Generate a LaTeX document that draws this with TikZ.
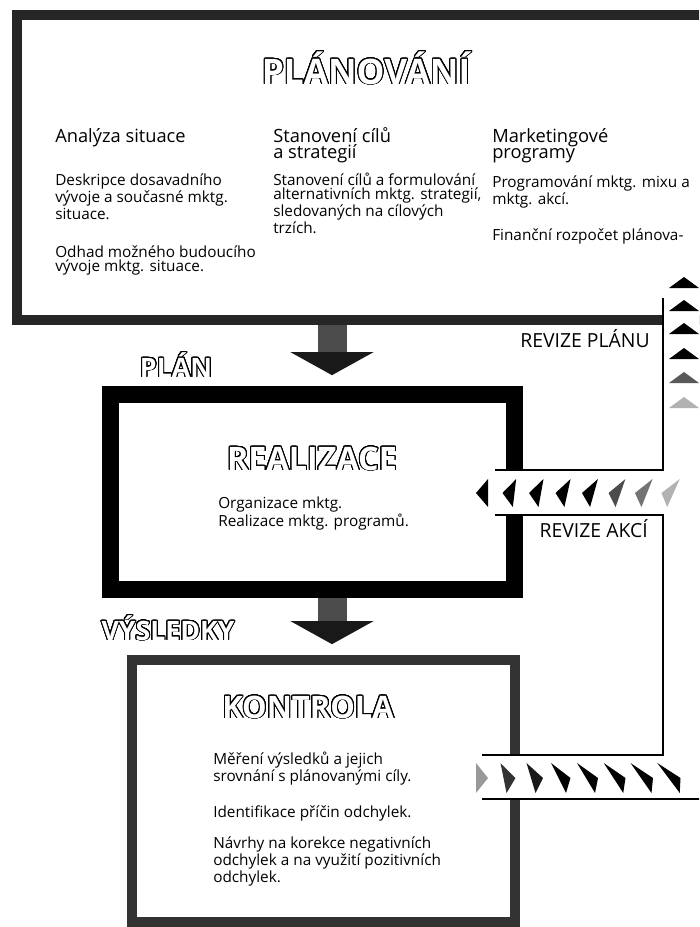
\documentclass[tikz,border=0pt]{standalone}
\usepackage{fontspec}
\setmainfont{Open Sans}
\usepackage{contour}
\contourlength{0.7pt}
\contournumber{32}
\usetikzlibrary{arrows.meta, positioning}
\tikzset{
    frame/.style={draw, rectangle, inner sep=0pt},
    bigarrow/.style={draw=black!70, line width=0.725cm, -{Triangle[width=2.075cm, length=0.575cm, line width=0pt, color=black!90]}, shorten >=0.27cm},
    wall/.style={line width=0.04cm},
    head/.style={font=\fontsize{13}{11.5pt}\selectfont, anchor=base west, align=left, inner sep=0pt},
    txt/.style={font=\fontsize{10.9}{10.3pt}\selectfont, anchor=base west, align=left, inner sep=0pt},
    title/.style={font=\fontsize{23}{23}\selectfont\bfseries, inner sep=0pt, anchor=base},
    stage/.style={font=\fontsize{19}{19}\selectfont\bfseries, inner sep=0pt, anchor=base},
    tag/.style={font=\fontsize{13.8}{14}\selectfont, inner sep=0pt, anchor=base east}
}
\newcommand{\hollow}[1]{\contour{black}{\textcolor{white}{#1}}}

\begin{document}
\begin{tikzpicture}[x=0.025cm, y=-0.025cm]
    \useasboundingbox (0,0) rectangle (699,927);
    \clip (0,0) rectangle (699,927);

    % the three boxes
    \node (plan) [frame, draw=black!85, line width=0.25cm, minimum width=18.075cm, minimum height=7.625cm] at (378.5,167.5) {};
    \node (realizace) [frame, draw=black, line width=0.425cm, minimum width=10.1cm, minimum height=4.875cm] at (312.5,492) {};
    \node (kontrola) [frame, draw=black!80, line width=0.25cm, minimum width=9.575cm, minimum height=6.55cm] at (323.5,791) {};

    % plan -> realizace -> kontrola
    \coordinate (axis) at (332,0);
    \draw [bigarrow] (plan.south -| axis) -- (realizace.north -| axis);
    \draw [bigarrow] (realizace.south -| axis) -- (kontrola.north -| axis);

    % feedback channel
    \coordinate (pipeTop) at (663,298);
    \coordinate (akceTop) at (495,470);
    \coordinate (akceBot) at (495,515);
    \coordinate (kontTop) at (482,755);
    \coordinate (kontBot) at (482,799);
    \fill [white] (kontTop) -- (kontTop -| pipeTop) -- (akceBot -| pipeTop) -- (akceBot) -- (akceTop)
        -- (akceTop -| pipeTop) -- (pipeTop) -- (740,298) -- (740,799) -- (kontBot) -- cycle;
    \draw [wall] (pipeTop) -- (akceTop -| pipeTop) -- (akceTop);
    \draw [wall] (akceBot) -- (akceBot -| pipeTop) -- (kontTop -| pipeTop) -- (kontTop);
    \draw [wall] (kontBot) -- (740,799);

    % arrow marks in the channel
    \foreach \y/\c in {277/black, 300/black, 323/black, 348/black, 372/black!65, 397/black!30}
        \fill [\c] (684,\y) -- (699,\y+11) -- (669,\y+11) -- cycle;
    \foreach \k/\s/\c in {0/0/black, 1/0.12/black, 2/0.18/black, 3/0.22/black, 4/0.28/black, 5/0.35/black!70, 6/0.4/black!55, 7/0.45/black!30}
        \fill [\c, shift={(482+26.5*\k,493)}, xslant=\s] (-6,0) -- (6,-14) -- (6,14) -- cycle;
    \foreach \k/\s/\c in {0/0/black!40, 1/-0.2/black!80, 2/-0.3/black!90, 3/-0.5/black, 4/-0.6/black, 5/-0.65/black, 6/-0.7/black, 7/-0.75/black}
        \fill [\c, shift={(482+27.5*\k,778)}, xslant=\s] (6,0) -- (-6,-15) -- (-6,15) -- cycle;

    % titles
    \node (tPlan) [title, font=\fontsize{25}{25}\selectfont\bfseries] at (366,84) {\hollow{PLÁNOVÁNÍ}};
    \node (tReal) [title] at (312,470) {\hollow{REALIZACE}};
    \node (tKont) [title, font=\fontsize{22}{22}\selectfont\bfseries] at (308,718) {\hollow{KONTROLA}};
    \node (sPlan) [stage] at (176,377) {\hollow{PLÁN}};
    \node (sVysl) [stage] at (168,640) {\hollow{VÝSLEDKY}};
    \node (rPlan) [tag] at (650,347) {REVIZE PLÁNU};
    \node (rAkce) [tag] at (648,537) {REVIZE AKCÍ};

    % planning columns (base = last line)
    \node (h1) [head] at (55,142) {Analýza situace};
    \node (h2) [head] at (273,158.2) {Stanovení cílů\\a strategií};
    \node (h3) [head] at (492,158.2) {Marketingové\\programy};
    \node (p1a) [txt] at (55,219) {Deskripce dosavadního\\vývoje a současné mktg.\\situace.};
    \node (p1b) [txt] at (55,271.5) {Odhad možného budoucího\\vývoje mktg. situace.};
    \node (p2a) [txt] at (273,233.4) {Stanovení cílů a formulování\\alternativních mktg. strategií,\\sledovaných na cílových\\trzích.};
    \node (p3a) [txt] at (492,204.5) {Programování mktg. mixu a\\mktg. akcí.};
    \node (p3b) [txt] at (492,240) {Finanční rozpočet plánova-};

    % realizace and kontrola text
    \node (r1) [txt] at (218,526.5) {Organizace mktg.\\Realizace mktg. programů.};
    \node (k1) [txt] at (213,781.5) {Měření výsledků a jejich\\srovnání s plánovanými cíly.};
    \node (k2) [txt] at (213,817) {Identifikace příčin odchylek.};
    \node (k3) [txt] at (213,882) {Návrhy na korekce negativních\\odchylek a na využití pozitivních\\odchylek.};
\end{tikzpicture}
\end{document}
